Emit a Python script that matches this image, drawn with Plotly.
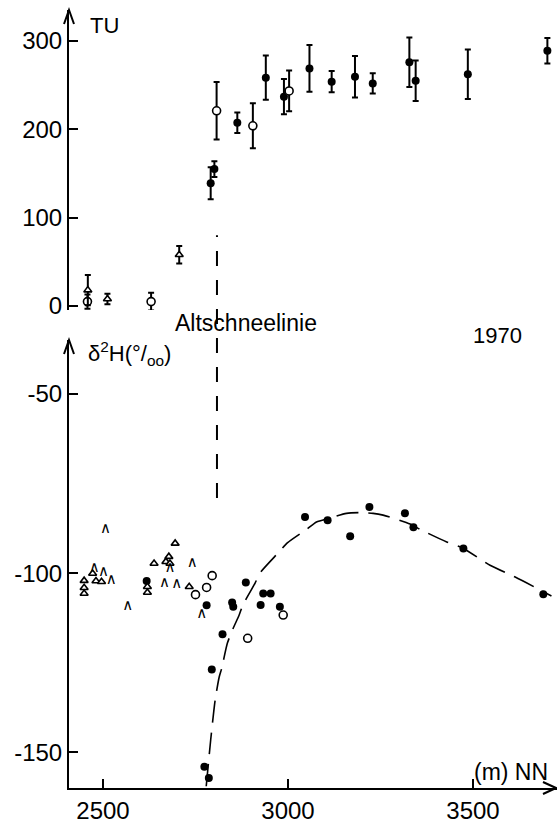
import plotly.graph_objects as go

# ---------------- upper panel: tritium content (TU) vs altitude ----------------
tu_full_alt = [2791, 2801, 2863, 2940, 2989, 3058, 3118, 3181, 3229, 3328, 3345, 3486, 3701]
tu_full_val = [139, 155, 207.5, 258.5, 237, 269, 254, 259.5, 252, 276, 255, 262.5, 289]
tu_full_err = [18, 9, 11.5, 25, 20, 26.5, 12, 23.5, 11.5, 28, 23, 28, 14.5]

tu_open_alt = [2458, 2630, 2807, 2905, 3003]
tu_open_val = [5, 5, 221, 204, 243.5]
tu_open_err = [8, 10, 32.5, 25.5, 23]

tu_tri_alt = [2459, 2512, 2706]
tu_tri_val = [18, 8, 58]
tu_tri_err = [17, 6, 10]

# ---------------- lower panel: deuterium delta (per mil) vs altitude ----------------
d_full_alt = [2618, 2780, 2774, 2786, 2794, 2823, 2849, 2852, 2886, 2926, 2933, 2953,
              2978, 3046, 3107, 3168, 3220, 3316, 3339, 3474, 3690]
d_full_val = [-102.2, -109.0, -154.1, -157.2, -126.9, -117.1, -108.2, -109.4, -102.6,
              -108.9, -105.7, -105.7, -109.4, -84.3, -85.2, -89.7, -81.5, -83.3, -87.2,
              -93.1, -105.9]

d_open_alt = [2750, 2780, 2795, 2891, 2987]
d_open_val = [-106.0, -104.0, -100.7, -118.2, -111.7]

d_tri_alt = [2449, 2449, 2449, 2472, 2481, 2496, 2620, 2620, 2638, 2670, 2678, 2681, 2695, 2733]
d_tri_val = [-102.1, -104.1, -105.7, -100.1, -102.2, -102.4, -103.8, -105.4, -97.3, -96.8,
             -95.4, -97.3, -91.7, -103.8]

d_cap_alt = [2507, 2476, 2501, 2522, 2567, 2666, 2699, 2741, 2767, 2681]
d_cap_val = [-87.7, -98.5, -99.8, -102.0, -109.2, -102.9, -103.1, -97.1, -111.5, -98.5]

# hand-drawn trend curve through the firn samples
curve_alt = [2779, 2791, 2803, 2814, 2821, 2836, 2851, 2868, 2878, 2911, 2924, 2973, 2999,
             3050, 3077, 3110, 3158, 3195, 3230, 3257, 3330, 3361, 3429, 3474, 3546, 3614,
             3672, 3712]
curve_val = [-159.5, -146.6, -135.5, -129.0, -126.5, -119.6, -115.6, -111.7, -108.9, -102.8,
             -100.0, -94.4, -91.5, -87.8, -85.7, -84.7, -83.3, -83.1, -83.3, -83.8, -86.3,
             -88.0, -91.3, -93.1, -97.8, -101.1, -104.2, -106.4]

# old-snow line altitude and the extent of its marker in each panel
snowline_alt = 2808
snowline_tu_top = 80
snowline_d_bottom = -79

x_ticks = [2500, 3000, 3500]
tu_ticks = [0, 100, 200, 300]
d_ticks = [-50, -100, -150]

# ---------------- layout geometry ----------------
W, H = 557, 826
ML, MB = 69, 38
PW, PH = W - ML, H - MB

X_RANGE = [2408.1, 3727]
D_RANGE = [-160, -34.9]
TU_RANGE = [-4.5, 335.1]
D_DOM = [0, 0.5685]
TU_DOM = [0.6066, 0.9873]


def xp(px):
    return (px - ML) / PW


def yp(py):
    return (PH - py) / PH


def yp_d(v):
    return D_DOM[0] + (v - D_RANGE[0]) / (D_RANGE[1] - D_RANGE[0]) * (D_DOM[1] - D_DOM[0])


def yp_tu(v):
    return TU_DOM[0] + (v - TU_RANGE[0]) / (TU_RANGE[1] - TU_RANGE[0]) * (TU_DOM[1] - TU_DOM[0])


FONT = "Liberation Sans"
BLACK = "black"

fig = go.Figure()


def err(vals):
    return dict(type="data", array=vals, visible=True, color=BLACK, thickness=2, width=3)


# upper panel
fig.add_trace(go.Scatter(x=tu_full_alt, y=tu_full_val, yaxis="y2", mode="markers",
                         error_y=err(tu_full_err),
                         marker=dict(symbol="circle", size=8, color=BLACK),
                         cliponaxis=False, showlegend=False))
fig.add_trace(go.Scatter(x=tu_open_alt, y=tu_open_val, yaxis="y2", mode="markers",
                         error_y=err(tu_open_err),
                         marker=dict(symbol="circle", size=8, color="white",
                                     line=dict(color=BLACK, width=1.6)),
                         cliponaxis=False, showlegend=False))
fig.add_trace(go.Scatter(x=tu_tri_alt, y=tu_tri_val, yaxis="y2", mode="markers",
                         error_y=err(tu_tri_err),
                         marker=dict(symbol="triangle-up", size=7, color="white",
                                     line=dict(color=BLACK, width=1.6)),
                         cliponaxis=False, showlegend=False))

# lower panel
fig.add_trace(go.Scatter(x=curve_alt, y=curve_val, mode="lines",
                         line=dict(color=BLACK, width=1.6, dash="22px,10px",
                                   shape="spline", smoothing=0.6),
                         showlegend=False))
fig.add_trace(go.Scatter(x=d_full_alt, y=d_full_val, mode="markers",
                         marker=dict(symbol="circle", size=8, color=BLACK),
                         cliponaxis=False, showlegend=False))
fig.add_trace(go.Scatter(x=d_open_alt, y=d_open_val, mode="markers",
                         marker=dict(symbol="circle", size=8, color="white",
                                     line=dict(color=BLACK, width=1.6)),
                         cliponaxis=False, showlegend=False))
fig.add_trace(go.Scatter(x=d_tri_alt, y=d_tri_val, mode="markers",
                         marker=dict(symbol="triangle-up", size=7, color="white",
                                     line=dict(color=BLACK, width=1.6)),
                         cliponaxis=False, showlegend=False))
fig.add_trace(go.Scatter(x=d_cap_alt, y=d_cap_val, mode="text",
                         text=["∧"] * len(d_cap_alt), textposition="middle center",
                         textfont=dict(family="DejaVu Sans", size=15, color=BLACK),
                         cliponaxis=False, showlegend=False))

axis_common = dict(showgrid=False, zeroline=False, showline=True, linecolor=BLACK, linewidth=2,
                   ticks="inside", ticklen=9, tickwidth=2, tickcolor=BLACK,
                   tickfont=dict(family=FONT, size=24, color=BLACK))

fig.update_layout(
    width=W, height=H,
    margin=dict(l=ML, r=0, t=0, b=MB),
    paper_bgcolor="white", plot_bgcolor="white",
    xaxis=dict(range=X_RANGE, domain=[0, 1], anchor="y", tickvals=x_ticks,
               ticktext=[str(v) for v in x_ticks], **axis_common),
    yaxis=dict(range=D_RANGE, domain=D_DOM, anchor="x", tickvals=d_ticks,
               ticktext=["-50", "-100", "-150"], **axis_common),
    yaxis2=dict(range=TU_RANGE, domain=TU_DOM, anchor="x", tickvals=tu_ticks,
                ticktext=[str(v) for v in tu_ticks], **axis_common),
)


def chevron(xa, ya, path):
    return dict(type="path", xref="paper", yref="paper", xsizemode="pixel", ysizemode="pixel",
                xanchor=xa, yanchor=ya, path=path, line=dict(color=BLACK, width=2))


shapes = [
    # arrow heads on the axes
    chevron(0, TU_DOM[1], "M -5,-14 L 0,0 L 5,-14"),
    chevron(0, D_DOM[1], "M -5,-14 L 0,0 L 5,-14"),
    chevron(1, 0, "M -14,6 L -1,0 L -14,-6"),
    # old-snow line
    dict(type="line", xref="x", yref="paper", x0=snowline_alt, x1=snowline_alt,
         y0=yp_d(snowline_d_bottom), y1=yp_tu(snowline_tu_top),
         line=dict(color=BLACK, width=2, dash="15px,14px")),
]
fig.update_layout(shapes=shapes)


def label(text, px, py, size):
    return dict(text=text, xref="paper", yref="paper", x=xp(px), y=yp(py),
                xanchor="left", yanchor="middle", showarrow=False,
                font=dict(family=FONT, size=size, color=BLACK))


fig.update_layout(annotations=[
    label("TU", 88, 25, 22),
    label("δ<sup>2</sup>H(°/<sub>oo</sub>)", 86, 353, 22),
    label("Altschneelinie", 173, 323, 23),
    label("1970", 471, 335, 22),
    label("(m) NN", 472, 772, 23),
])

fig.write_html("out.html")
